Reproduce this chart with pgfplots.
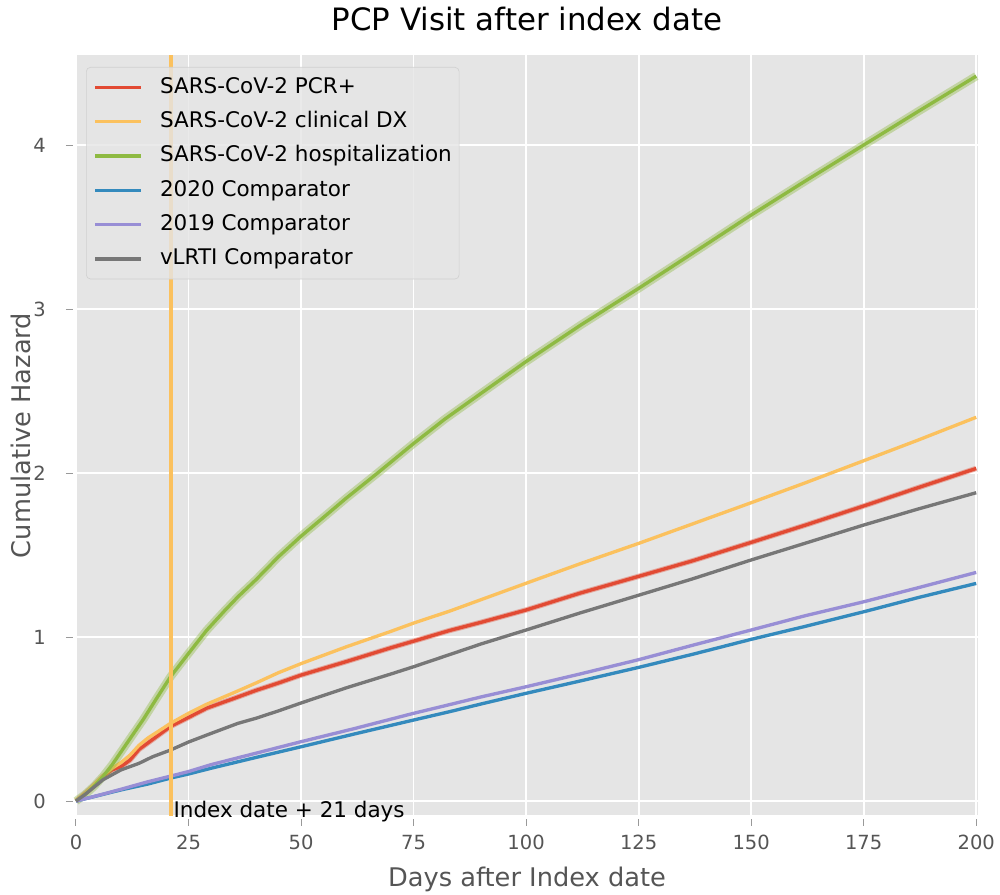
\documentclass[border=0pt]{standalone}
\usepackage{fontspec}
\setmainfont{DejaVu Sans}
\usepackage{pgfplots}
\pgfplotsset{compat=1.18}
\definecolor{ggbg}{HTML}{E5E5E5}
\definecolor{ggred}{HTML}{E24A33}
\definecolor{ggblue}{HTML}{348ABD}
\definecolor{ggpurple}{HTML}{988ED5}
\definecolor{gggray}{HTML}{777777}
\definecolor{ggyellow}{HTML}{FBC15E}
\definecolor{gggreen}{HTML}{8EBA42}
\definecolor{ggtext}{HTML}{555555}

\begin{document}
\begin{tikzpicture}
\path[use as bounding box] (-45.6pt,-47.4pt) rectangle (554.4pt,489.6pt);
\begin{axis}[
  at={(0,0)}, anchor=south west,
  scale only axis, width=541.2pt, height=456.6pt,
  xmin=0, xmax=200.4, ymin=-0.091, ymax=4.549,
  xtick={0,25,...,200}, ytick={0,1,2,3,4},
  axis background/.style={fill=ggbg},
  axis line style={white, line width=0.6pt},
  grid=major, major grid style={white, line width=1.1pt},
  tick align=outside, tick pos=left, major tick length=4pt,
  tick style={draw=ggtext!60, line width=0.6pt},
  xtick style={yshift=-2pt}, ytick style={xshift=-2pt},
  /pgf/number format/assume math mode=true,
  ticklabel style={font=\fontsize{11.7}{14}\selectfont, text=ggtext},
  xticklabel style={anchor=base, inner sep=0pt},
  xticklabel shift=16pt,
  yticklabel style={anchor=east, inner sep=0pt},
  yticklabel shift=14pt,
  title={PCP Visit after index date},
  title style={font=\fontsize{18.5}{22}\selectfont, anchor=base, at={(axis description cs:0.5,1)}, yshift=8.6pt},
  xlabel={Days after Index date},
  xlabel style={font=\fontsize{15.4}{18}\selectfont, text=ggtext, at={(axis description cs:0.5,0)}, anchor=base, yshift=-42.4pt},
  ylabel={Cumulative Hazard},
  ylabel style={font=\fontsize{15.4}{18}\selectfont, text=ggtext, at={(axis description cs:-0.05,0.5)}, anchor=base},
  clip=false,
  legend cell align=left,
  legend image code/.code={\draw[#1] (0pt,0pt) -- (27.6pt,0pt);},
  legend style={at={(axis description cs:0.0111,0.9842)}, anchor=north west,
    fill=ggbg, fill opacity=0.8, text opacity=1, draw opacity=1, draw=black!18,
    rounded corners=2.5pt, inner xsep=4.4pt, inner ysep=5.5pt,
    font=\fontsize{12.9}{15}\selectfont, row sep=7.6pt,
    nodes={inner sep=0pt, text height=10pt, text depth=3pt},
    /tikz/every odd column/.append style={column sep=10.2pt}},
  every axis plot/.append style={line width=2pt, line join=round},
]
% PCR+ band and line
\addplot[ggred, opacity=0.4, line width=3.2pt, forget plot] coordinates {
(0,0) (2,0.045) (4,0.095) (6,0.15) (8,0.19) (10,0.21) (12,0.25) (14,0.315) (16,0.355) (18,0.395) (21,0.455) (25,0.51) (29,0.566) (35,0.625) (40,0.675) (45,0.72) (50,0.768) (60,0.85) (70,0.935) (75,0.975) (83,1.04) (90,1.09) (100,1.165) (112,1.268) (125,1.37) (137,1.465) (150,1.577) (162,1.682) (175,1.799) (187,1.91) (200,2.028)
};
\addplot[ggred] coordinates {
(0,0) (2,0.045) (4,0.095) (6,0.15) (8,0.19) (10,0.21) (12,0.25) (14,0.315) (16,0.355) (18,0.395) (21,0.455) (25,0.51) (29,0.566) (35,0.625) (40,0.675) (45,0.72) (50,0.768) (60,0.85) (70,0.935) (75,0.975) (83,1.04) (90,1.09) (100,1.165) (112,1.268) (125,1.37) (137,1.465) (150,1.577) (162,1.682) (175,1.799) (187,1.91) (200,2.028)
};
\addlegendentry{SARS-CoV-2 PCR+}
% clinical DX
\addplot[ggyellow] coordinates {
(0,0) (2,0.045) (4,0.1) (6,0.155) (8,0.2) (10,0.235) (12,0.28) (14,0.34) (16,0.385) (18,0.42) (21,0.474) (25,0.535) (29,0.59) (35,0.66) (40,0.72) (45,0.783) (50,0.838) (60,0.94) (70,1.035) (75,1.085) (83,1.158) (90,1.228) (100,1.328) (112,1.447) (125,1.571) (137,1.69) (150,1.819) (162,1.94) (175,2.075) (187,2.2) (200,2.34)
};
\addlegendentry{SARS-CoV-2 clinical DX}
% hospitalization band and line
\addplot[gggreen, opacity=0.4, line width=5pt, forget plot] coordinates {
(0,0) (2,0.04) (4,0.09) (6,0.15) (8,0.22) (10,0.30) (12,0.38) (15,0.5) (18,0.63) (21,0.758) (25,0.9) (29,1.04) (33,1.16) (36,1.246) (40,1.35) (45,1.49) (50,1.615) (55,1.73) (60,1.846) (67,2.0) (75,2.18) (82,2.33) (90,2.486) (100,2.68) (112,2.9) (125,3.126) (137,3.34) (150,3.573) (162,3.78) (175,4.0) (187,4.203) (200,4.42)
};
\addplot[gggreen] coordinates {
(0,0) (2,0.04) (4,0.09) (6,0.15) (8,0.22) (10,0.30) (12,0.38) (15,0.5) (18,0.63) (21,0.758) (25,0.9) (29,1.04) (33,1.16) (36,1.246) (40,1.35) (45,1.49) (50,1.615) (55,1.73) (60,1.846) (67,2.0) (75,2.18) (82,2.33) (90,2.486) (100,2.68) (112,2.9) (125,3.126) (137,3.34) (150,3.573) (162,3.78) (175,4.0) (187,4.203) (200,4.42)
};
\addlegendentry{SARS-CoV-2 hospitalization}
% 2020 comparator
\addplot[ggblue] coordinates {
(0,0) (5,0.034) (10,0.068) (16,0.104) (21,0.14) (25,0.165) (30,0.2) (40,0.266) (50,0.331) (62,0.41) (75,0.494) (83,0.545) (90,0.592) (100,0.657) (112,0.732) (125,0.815) (137,0.895) (150,0.986) (162,1.065) (175,1.154) (187,1.24) (200,1.327)
};
\addlegendentry{2020 Comparator}
% 2019 comparator
\addplot[ggpurple] coordinates {
(0,0) (5,0.035) (10,0.072) (16,0.118) (21,0.152) (25,0.18) (30,0.222) (40,0.292) (50,0.362) (62,0.443) (75,0.535) (83,0.588) (90,0.635) (100,0.697) (112,0.775) (125,0.862) (137,0.95) (150,1.043) (162,1.13) (175,1.215) (187,1.3) (200,1.394)
};
\addlegendentry{2019 Comparator}
% vLRTI comparator
\addplot[gggray] coordinates {
(0,0) (2,0.04) (4,0.085) (6,0.13) (8,0.16) (10,0.19) (12,0.21) (14,0.23) (17,0.27) (21,0.311) (25,0.36) (29,0.402) (36,0.474) (40,0.505) (45,0.55) (50,0.598) (60,0.69) (70,0.775) (75,0.819) (83,0.893) (90,0.958) (100,1.043) (112,1.147) (125,1.255) (137,1.355) (150,1.47) (162,1.572) (175,1.683) (187,1.78) (200,1.88)
};
\addlegendentry{vLRTI Comparator}
% index date + 21 days
\addplot[ggyellow, line width=2.4pt, forget plot] coordinates {(21,-0.091) (21,4.549)};
\node[anchor=base west, inner sep=0pt, font=\fontsize{12.9}{15}\selectfont] at (axis cs:21.6,-0.098) {Index date + 21 days};
\end{axis}
\end{tikzpicture}
\end{document}
